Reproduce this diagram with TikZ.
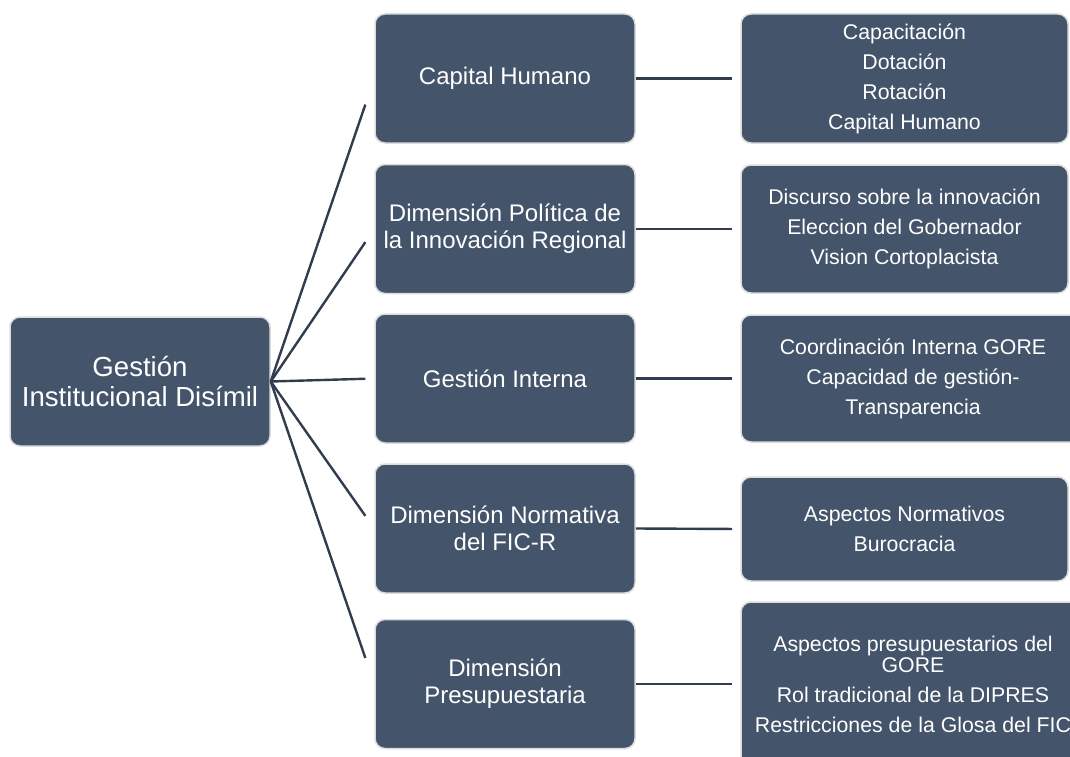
\documentclass[tikz,border=0pt]{standalone}
\usepackage{fontspec}
\setmainfont{Liberation Sans}
\usetikzlibrary{calc}
\definecolor{boxfill}{HTML}{44546A}
\definecolor{boxedge}{HTML}{DCDCDC}
\definecolor{linkcol}{HTML}{313D4F}

\begin{document}
\begin{tikzpicture}[x=1pt,y=-1pt,
  box/.style={draw=boxedge,line width=1.5pt,fill=boxfill,rounded corners=10pt,
    text=white,align=center,inner sep=0pt,minimum width=260pt,minimum height=129pt},
  rootbox/.style={box,font=\fontsize{27.6}{30.5}\selectfont},
  midbox/.style={box,font=\fontsize{24}{27}\selectfont},
  leafbox/.style={box,font=\fontsize{21.3}{30}\selectfont,minimum width=327pt},
  link/.style={draw=linkcol,line width=2.4pt}]
\useasboundingbox (0,0) rectangle (1070,757);
\node[rootbox] (root) at (140,381.5) {Gestión\\Institucional Disímil};
\node[midbox] (m1) at (505,78.5) {Capital Humano};
\node[midbox] (m2) at (505,229) {Dimensión Política de\\la Innovación Regional};
\node[midbox] (m3) at (505,378.5) {Gestión Interna};
\node[midbox] (m4) at (505,528.5) {Dimensión Normativa\\del FIC-R};
\node[midbox] (m5) at (505,684) {Dimensión\\Presupuestaria};
\node[leafbox] (r1) at (904.5,78.5) {Capacitación\\Dotación\\Rotación\\Capital Humano};
\node[leafbox,minimum height=128pt] (r2) at (904.5,229) {Discurso sobre la innovación\\Eleccion del Gobernador\\Vision Cortoplacista};
\node[leafbox,minimum width=344pt,minimum height=127pt] (r3) at (913,378.5) {Coordinación Interna GORE\\Capacidad de gestión-\\Transparencia};
\node[leafbox,minimum height=104pt] (r4) at (904.5,529) {Aspectos Normativos\\Burocracia};
\node[leafbox,minimum width=344pt,minimum height=164pt] (r5) at (913,684) {Aspectos presupuestarios del\\[-9pt]GORE\\Rol tradicional de la DIPRES\\Restricciones de la Glosa del FIC};
\draw[link] (root.east) -- ($(root.east)!0.914!(m1.west)$);
\draw[link] (root.east) -- ($(root.east)!0.914!(m2.west)$);
\draw[link] (root.east) -- ($(root.east)!0.914!(m3.west)$);
\draw[link] (root.east) -- ($(root.east)!0.914!(m4.west)$);
\draw[link] (root.east) -- ($(root.east)!0.914!(m5.west)$);
\draw[link] (m1.east) -- ($(m1.east)!0.923!(r1.west)$);
\draw[link] (m2.east) -- ($(m2.east)!0.923!(r2.west)$);
\draw[link] (m3.east) -- ($(m3.east)!0.923!(r3.west)$);
\draw[link] (m4.east) -- ($(m4.east)!0.923!(r4.west)$);
\draw[link] (m5.east) -- ($(m5.east)!0.923!(r5.west)$);
\end{tikzpicture}
\end{document}
